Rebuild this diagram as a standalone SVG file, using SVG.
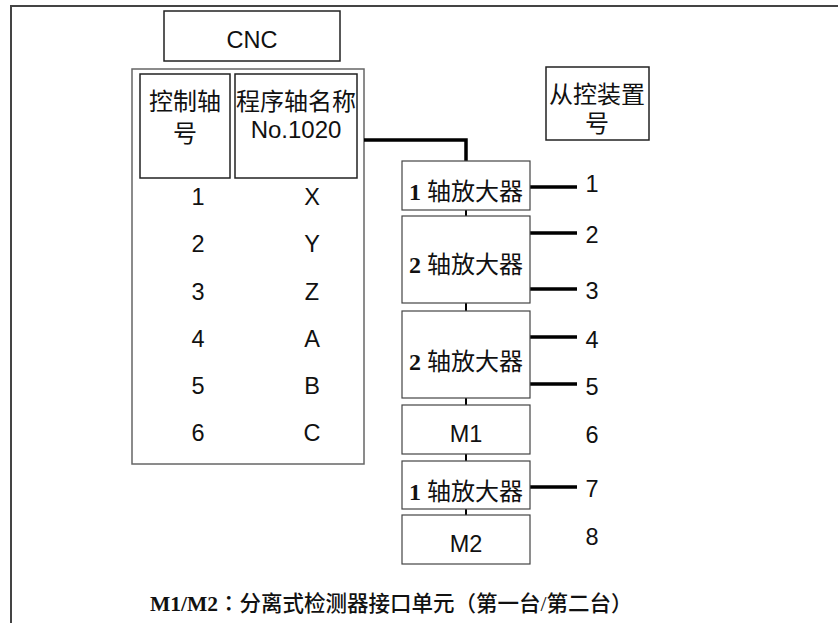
<svg xmlns="http://www.w3.org/2000/svg" width="838" height="623" viewBox="0 0 838 623">
<style>
.frame{fill:none;stroke:#444;stroke-width:2}
.box{fill:#fff;stroke:#222;stroke-width:1.5}
.panel{fill:#fff;stroke:#666;stroke-width:1.5}
.amp{fill:#fff;stroke:#444;stroke-width:1.2}
.wire{fill:none;stroke:#000;stroke-width:3.5}
.link{fill:none;stroke:#000;stroke-width:2}
.t{font-family:"Liberation Sans","Noto Sans CJK SC",sans-serif;font-size:23.5px;fill:#111;text-anchor:middle}
.c{font-family:"Liberation Sans","Noto Sans CJK SC",sans-serif;font-size:24px;fill:#111;text-anchor:middle}
.a{font-family:"Liberation Serif","Noto Sans CJK SC",serif;font-size:24px;fill:#111;text-anchor:middle}
.b{font-weight:bold}
.cap{font-family:"Liberation Serif","Noto Sans CJK SC",serif;font-size:21.5px;fill:#111;font-weight:500}
.colon{font-family:"Noto Sans CJK TC",sans-serif}
</style>
<rect width="838" height="623" fill="#fff"/>
<path class="frame" d="M11,623 V6 H838"/>
<g id="cnc">
<rect class="box" x="164" y="11" width="176" height="50"/>
<text class="t" x="252" y="48">CNC</text>
</g>
<g id="cnc-panel">
<rect class="panel" x="132" y="69" width="232" height="395"/>
<rect class="box" x="140" y="74" width="90" height="104"/>
<text class="c" x="185" y="110">控制轴</text>
<text class="c" x="185" y="142">号</text>
<rect class="box" x="235" y="74" width="122" height="104"/>
<text class="c" x="296" y="110">程序轴名称</text>
<text class="c" x="296" y="138">No.1020</text>
<text class="t" x="198" y="205">1</text>
<text class="t" x="198" y="252">2</text>
<text class="t" x="198" y="300">3</text>
<text class="t" x="198" y="347">4</text>
<text class="t" x="198" y="394">5</text>
<text class="t" x="198" y="441">6</text>
<text class="t" x="312" y="205">X</text>
<text class="t" x="312" y="252">Y</text>
<text class="t" x="312" y="300">Z</text>
<text class="t" x="312" y="347">A</text>
<text class="t" x="312" y="394">B</text>
<text class="t" x="312" y="441">C</text>
</g>
<g id="connectors">
<path class="wire" d="M364,140 H466 V161"/>
<path class="link" d="M466,210 V216 M466,303 V311 M466,398 V405 M466,454 V461 M466,509 V515"/>
<path class="wire" d="M530,187 H577 M530,233 H577 M530,289 H577 M530,337 H577 M530,384 H577 M530,487 H577"/>
</g>
<g id="slave-header">
<rect class="box" x="546" y="67" width="103" height="73"/>
<text class="c" x="597" y="103">从控装置</text>
<text class="c" x="597" y="132">号</text>
</g>
<g id="amp1">
<rect class="amp" x="402" y="161" width="128" height="49"/>
<text class="a" x="466" y="200"><tspan class="b">1</tspan> 轴放大器</text>
</g>
<g id="amp2">
<rect class="amp" x="402" y="216" width="128" height="87"/>
<text class="a" x="466" y="273"><tspan class="b">2</tspan> 轴放大器</text>
</g>
<g id="amp3">
<rect class="amp" x="402" y="311" width="128" height="87"/>
<text class="a" x="466" y="370"><tspan class="b">2</tspan> 轴放大器</text>
</g>
<g id="m1">
<rect class="amp" x="402" y="405" width="128" height="49"/>
<text class="t" x="466" y="442">M1</text>
</g>
<g id="amp4">
<rect class="amp" x="402" y="461" width="128" height="48"/>
<text class="a" x="466" y="500"><tspan class="b">1</tspan> 轴放大器</text>
</g>
<g id="m2">
<rect class="amp" x="402" y="515" width="128" height="49"/>
<text class="t" x="466" y="552">M2</text>
</g>
<g id="slave-numbers">
<text class="t" x="592" y="192">1</text>
<text class="t" x="592" y="243">2</text>
<text class="t" x="592" y="299">3</text>
<text class="t" x="592" y="348">4</text>
<text class="t" x="592" y="395">5</text>
<text class="t" x="592" y="443">6</text>
<text class="t" x="592" y="497">7</text>
<text class="t" x="592" y="545">8</text>
</g>
<g id="caption">
<text class="cap" x="150" y="611"><tspan class="b">M1/M2</tspan><tspan class="colon">：</tspan>分离式检测器接口单元（第一台/第二台）</text>
</g>
</svg>
